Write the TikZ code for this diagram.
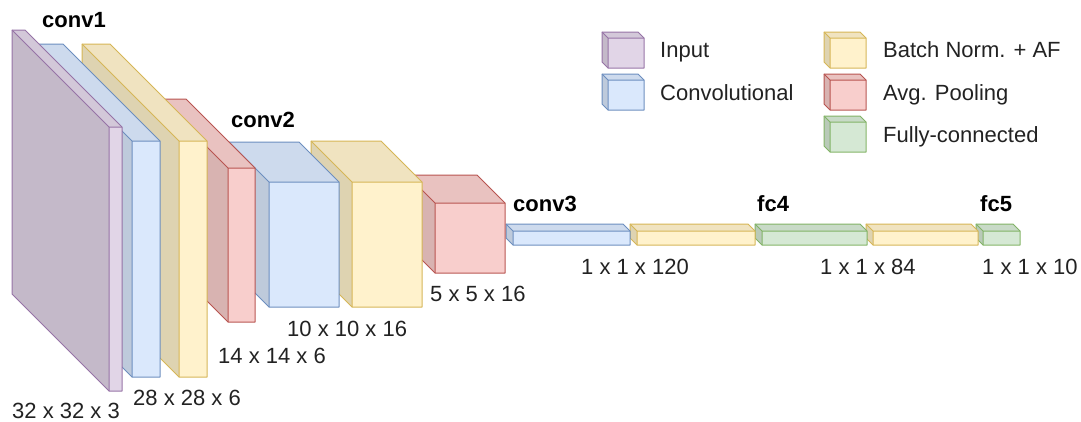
\documentclass[tikz,border=0pt]{standalone}
\usepackage{fontspec}
\setmainfont{Liberation Sans}
\definecolor{purF}{HTML}{E1D5E7}\definecolor{purS}{HTML}{9673A6}
\definecolor{bluF}{HTML}{DAE8FC}\definecolor{bluS}{HTML}{6C8EBF}
\definecolor{yelF}{HTML}{FFF2CC}\definecolor{yelS}{HTML}{D6B656}
\definecolor{redF}{HTML}{F8CECC}\definecolor{redS}{HTML}{B85450}
\definecolor{grnF}{HTML}{D5E8D4}\definecolor{grnS}{HTML}{82B366}
\definecolor{txt}{HTML}{222222}
% #1 name, #2 fill, #3 stroke, #4 x1, #5 y1, #6 x2, #7 y2 (front face), #8 depth
\newcommand\cubeblk[8]{%
  \fill[#2!87!black] ({#4-#8},{#5-#8}) -- (#4,#5) -- (#4,#7) -- ({#4-#8},{#7-#8}) -- cycle;
  \fill[#2!94!black] ({#4-#8},{#5-#8}) -- ({#6-#8},{#5-#8}) -- (#6,#5) -- (#4,#5) -- cycle;
  \fill[#2] (#4,#5) rectangle (#6,#7);
  \draw[cubeline,#3] ({#4-#8},{#5-#8}) -- ({#6-#8},{#5-#8}) -- (#6,#5) -- (#6,#7) -- (#4,#7) -- ({#4-#8},{#7-#8}) -- cycle;
  \draw[cubeline,#3] ({#4-#8},{#5-#8}) -- (#4,#5) -- (#6,#5) (#4,#5) -- (#4,#7);
  \coordinate (#1) at (#4,#5);
}
\begin{document}
\begin{tikzpicture}[x=1pt,y=-1pt,
  cubeline/.style={line width=1pt,line join=round},
  lbl/.style={font=\fontsize{22}{26}\selectfont, text=txt, inner sep=0pt, anchor=base west},
  ttl/.style={lbl, font=\fontsize{22}{26}\selectfont\bfseries, text=black}]
\useasboundingbox (0,0) rectangle (1081,421);
% blocks, drawn from right to left
\cubeblk{fcfive}{grnF}{grnS}{983}{231}{1020}{245}{7}
\cubeblk{bnfour}{yelF}{yelS}{873}{231}{978}{245}{7}
\cubeblk{fcfour}{grnF}{grnS}{762}{231}{867}{245}{7}
\cubeblk{bnthree}{yelF}{yelS}{637}{231}{755}{245}{7}
\cubeblk{convthree}{bluF}{bluS}{513}{231}{630}{245}{7}
\cubeblk{pooltwo}{redF}{redS}{435}{203}{505}{273}{28}
\cubeblk{bntwo}{yelF}{yelS}{352}{182}{422}{307}{41}
\cubeblk{convtwo}{bluF}{bluS}{269}{182}{339}{307}{40}
\cubeblk{poolone}{redF}{redS}{228}{168}{255}{322}{69}
\cubeblk{bnone}{yelF}{yelS}{179}{141}{207}{377}{97}
\cubeblk{convone}{bluF}{bluS}{132}{141}{160}{377}{97}
\cubeblk{input}{purF}{purS}{109}{127}{122}{391}{97}
% titles
\node[ttl] (tconv1) at (42,27) {conv1};
\node[ttl] (tconv2) at (231,127) {conv2};
\node[ttl] (tconv3) at (513,211) {conv3};
\node[ttl] (tfc4) at (757,211) {fc4};
\node[ttl] (tfc5) at (980,211) {fc5};
% sizes
\node[lbl] (s1) at (12,418) {32 x 32 x 3};
\node[lbl] (s2) at (133,405) {28 x 28 x 6};
\node[lbl] (s3) at (218,363) {14 x 14 x 6};
\node[lbl] (s4) at (287,336) {10 x 10 x 16};
\node[lbl] (s5) at (430,301) {5 x 5 x 16};
\node[lbl] (s6) at (581,274) {1 x 1 x 120};
\node[lbl] (s7) at (820,274) {1 x 1 x 84};
\node[lbl] (s8) at (982,274) {1 x 1 x 10};
% legend
\cubeblk{lgA}{purF}{purS}{608}{38}{644}{68}{6}
\cubeblk{lgB}{bluF}{bluS}{608}{80}{644}{110}{6}
\cubeblk{lgC}{yelF}{yelS}{830}{38}{866}{68}{6}
\cubeblk{lgD}{redF}{redS}{830}{80}{866}{110}{6}
\cubeblk{lgE}{grnF}{grnS}{830}{122}{866}{152}{6}
\node[lbl] (tA) at (660,57) {Input};
\node[lbl] (tB) at (660,100) {Convolutional};
\node[lbl] (tC) at (883,57) {Batch Norm. + AF};
\node[lbl] (tD) at (883,100) {Avg. Pooling};
\node[lbl] (tE) at (883,142) {Fully-connected};
\end{tikzpicture}
\end{document}
